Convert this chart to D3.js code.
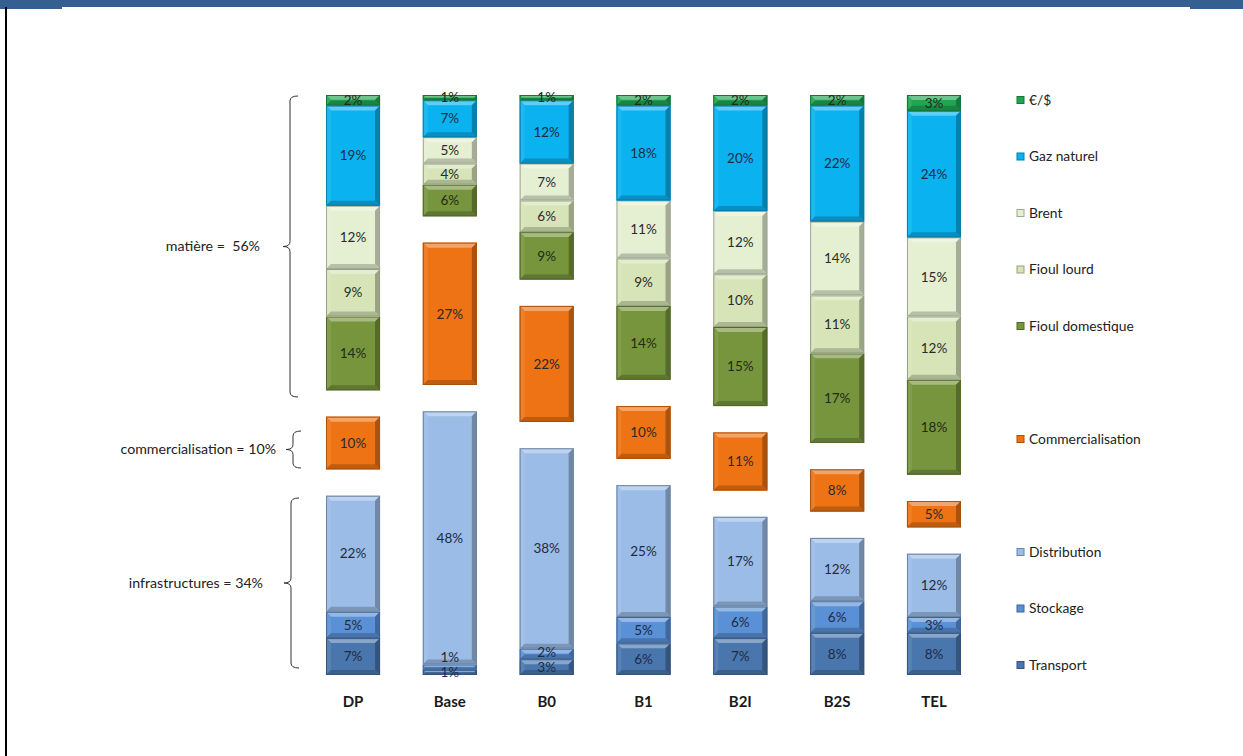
<!DOCTYPE html>
<html>
<head>
<meta charset="utf-8">
<script src="https://cdn.jsdelivr.net/npm/d3@7"></script>
<style>
  html, body { margin: 0; padding: 0; background: #ffffff; }
  svg { display: block; }
  text { font-family: Lato, "Open Sans", "Liberation Sans", sans-serif; }
</style>
</head>
<body>
<svg id="chart" width="1243" height="756"></svg>
<script>
// Scenarios (x axis)
const categories = ["DP", "Base", "B0", "B1", "B2I", "B2S", "TEL"];

// Cost components, in % of the total, per scenario
const transport         = [7, 1, 3, 6, 7, 8, 8];
const stockage          = [5, 1, 2, 5, 6, 6, 3];
const distribution      = [22, 48, 38, 25, 17, 12, 12];
const commercialisation = [10, 27, 22, 10, 11, 8, 5];
const fioulDomestique   = [14, 6, 9, 14, 15, 17, 18];
const fioulLourd        = [9, 4, 6, 9, 10, 11, 12];
const brent             = [12, 5, 7, 11, 12, 14, 15];
const gazNaturel        = [19, 7, 12, 18, 20, 22, 24];
const euroDollar        = [2, 1, 1, 2, 2, 2, 3];

// Invisible spacer series separating the three groups
const spacerInfra = [5, 5, 5, 5, 5, 5, 5];
const spacerComm  = [5, 5, 5, 5, 5, 5, 5];

// Group brackets on the left
const groupLabels = ["matière =  56%", "commercialisation = 10%", "infrastructures = 34%"];

// Series, bottom to top
const series = [
  { key: "Transport",         values: transport,         color: "#4A76AE", text: "#1E2B45" },
  { key: "Stockage",          values: stockage,          color: "#5A90D6", text: "#1E2B45" },
  { key: "Distribution",      values: distribution,      color: "#9BBCE6", text: "#1E2B45" },
  { key: "_s1",               values: spacerInfra,       color: null },
  { key: "Commercialisation", values: commercialisation, color: "#EE7314", text: "#2A2A2A" },
  { key: "_s2",               values: spacerComm,        color: null },
  { key: "Fioul domestique",  values: fioulDomestique,   color: "#77953C", text: "#1F2A1A" },
  { key: "Fioul lourd",       values: fioulLourd,        color: "#D6E4B8", text: "#2A2A2A" },
  { key: "Brent",             values: brent,             color: "#E5EFD2", text: "#2A2A2A" },
  { key: "Gaz naturel",       values: gazNaturel,        color: "#0AB2F0", text: "#1E2B45" },
  { key: "€/$",               values: euroDollar,        color: "#1FA650", text: "#1F2A1A" }
];

const svg = d3.select("#chart");

// Page header band and left rule
svg.append("rect").attr("x", 0).attr("y", 0).attr("width", 1243).attr("height", 7).attr("fill", "#365F91");
svg.append("rect").attr("x", 0).attr("y", 0).attr("width", 62).attr("height", 9).attr("fill", "#365F91");
svg.append("rect").attr("x", 1190).attr("y", 0).attr("width", 53).attr("height", 9).attr("fill", "#365F91");
svg.append("rect").attr("x", 5).attr("y", 7).attr("width", 2).attr("height", 749).attr("fill", "#000");

// Table for the stack
const table = categories.map((c, i) => {
  const row = { cat: c };
  series.forEach(s => row[s.key] = s.values[i]);
  return row;
});
const stacked = d3.stack().keys(series.map(s => s.key))(table);

const x = d3.scaleBand().domain(categories).range([304.7, 982.3]).paddingInner(0.442).paddingOuter(0.22);
const y = d3.scaleLinear().domain([0, 110]).range([675, 95]);

// Colour helpers for the bevelled look
const lighter = (c, k) => d3.interpolateRgb(c, "#ffffff")(k);
const darker  = (c, k) => d3.interpolateRgb(c, "#000000")(k);

// Last label position per bar, so thin stacked segments do not print on top of each other
const lastLabelY = categories.map(() => Infinity);

const bars = svg.append("g");
const labels = svg.append("g");
stacked.forEach((layer, li) => {
  const s = series[li];
  if (!s.color) { layer.forEach((d, i) => lastLabelY[i] = Infinity); return; }
  const g = bars.append("g");
  layer.forEach((d, i) => {
    const x0 = x(categories[i]);
    const w = x.bandwidth();
    const yTop = y(d[1]);
    const yBot = y(d[0]);
    const h = yBot - yTop;
    const b = Math.min(5, h / 2.2);
    const seg = g.append("g");
    // body
    seg.append("rect").attr("x", x0).attr("y", yTop).attr("width", w).attr("height", h)
      .attr("fill", s.color);
    // top bevel (highlight)
    seg.append("path")
      .attr("d", `M${x0},${yTop}L${x0 + w},${yTop}L${x0 + w - b},${yTop + b}L${x0 + b},${yTop + b}Z`)
      .attr("fill", lighter(s.color, 0.35));
    // left bevel
    seg.append("path")
      .attr("d", `M${x0},${yTop}L${x0 + b},${yTop + b}L${x0 + b},${yBot - b}L${x0},${yBot}Z`)
      .attr("fill", lighter(s.color, 0.08));
    // right bevel
    seg.append("path")
      .attr("d", `M${x0 + w},${yTop}L${x0 + w},${yBot}L${x0 + w - b},${yBot - b}L${x0 + w - b},${yTop + b}Z`)
      .attr("fill", darker(s.color, 0.28));
    // bottom bevel
    seg.append("path")
      .attr("d", `M${x0},${yBot}L${x0 + w},${yBot}L${x0 + w - b},${yBot - b}L${x0 + b},${yBot - b}Z`)
      .attr("fill", darker(s.color, 0.2));
    // outline
    seg.append("rect").attr("x", x0 + 0.5).attr("y", yTop + 0.5).attr("width", w - 1).attr("height", Math.max(0, h - 1))
      .attr("fill", "none").attr("stroke", darker(s.color, 0.3)).attr("stroke-width", 1);
    // value label (drawn in a layer above all bars)
    let ly = (yTop + yBot) / 2;
    if (lastLabelY[i] - ly < 15) ly = lastLabelY[i] - 15;
    lastLabelY[i] = ly;
    labels.append("text")
      .attr("x", x0 + w / 2)
      .attr("y", ly)
      .attr("dy", "0.35em")
      .attr("text-anchor", "middle")
      .attr("font-size", 13.5)
      .attr("fill", s.text)
      .text(d.data[s.key] + "%");
  });
});

// Category labels
svg.append("g").selectAll("text").data(categories).join("text")
  .attr("x", d => x(d) + x.bandwidth() / 2)
  .attr("y", 702)
  .attr("dy", "0.35em")
  .attr("text-anchor", "middle")
  .attr("font-size", 15)
  .attr("font-weight", "bold")
  .attr("fill", "#1a1a1a")
  .text(d => d);

// Legend: one slot per series, spacers leave empty slots
const legendKeys = series.slice().reverse();
const ly = d3.scalePoint().domain(legendKeys.map(s => s.key)).range([100, 665]);
const legend = svg.append("g");
legendKeys.forEach(s => {
  if (!s.color) return;
  const cy = ly(s.key);
  legend.append("rect").attr("x", 1017).attr("y", cy - 3.5).attr("width", 7).attr("height", 7)
    .attr("fill", s.color).attr("stroke", darker(s.color, 0.3)).attr("stroke-width", 1);
  legend.append("text").attr("x", 1029).attr("y", cy).attr("dy", "0.35em")
    .attr("font-size", 13.8).attr("fill", "#222").text(s.key);
});

// Curly brackets for the three groups
function brace(xb, y0, y1, ym) {
  const r = 5, t = 7;
  return `M${xb + 8},${y0}Q${xb},${y0} ${xb},${y0 + r}` +
         `L${xb},${ym - r}Q${xb},${ym} ${xb - t},${ym}` +
         `Q${xb},${ym} ${xb},${ym + r}` +
         `L${xb},${y1 - r}Q${xb},${y1} ${xb + 8},${y1}`;
}
const braces = [
  { xb: 290, y0: 96, y1: 397, label: groupLabels[0], lx: 260 },
  { xb: 293, y0: 431, y1: 468, label: groupLabels[1], lx: 276 },
  { xb: 291, y0: 498, y1: 668, label: groupLabels[2], lx: 263 }
];
const bg = svg.append("g");
braces.forEach(b => {
  const ym = (b.y0 + b.y1) / 2;
  bg.append("path").attr("d", brace(b.xb, b.y0, b.y1, ym))
    .attr("fill", "none").attr("stroke", "#333").attr("stroke-width", 1);
  bg.append("text").attr("x", b.lx).attr("y", ym).attr("dy", "0.35em")
    .attr("text-anchor", "end").attr("font-size", 14.2).attr("fill", "#222")
    .style("white-space", "pre")
    .text(b.label);
});
</script>
</body>
</html>
